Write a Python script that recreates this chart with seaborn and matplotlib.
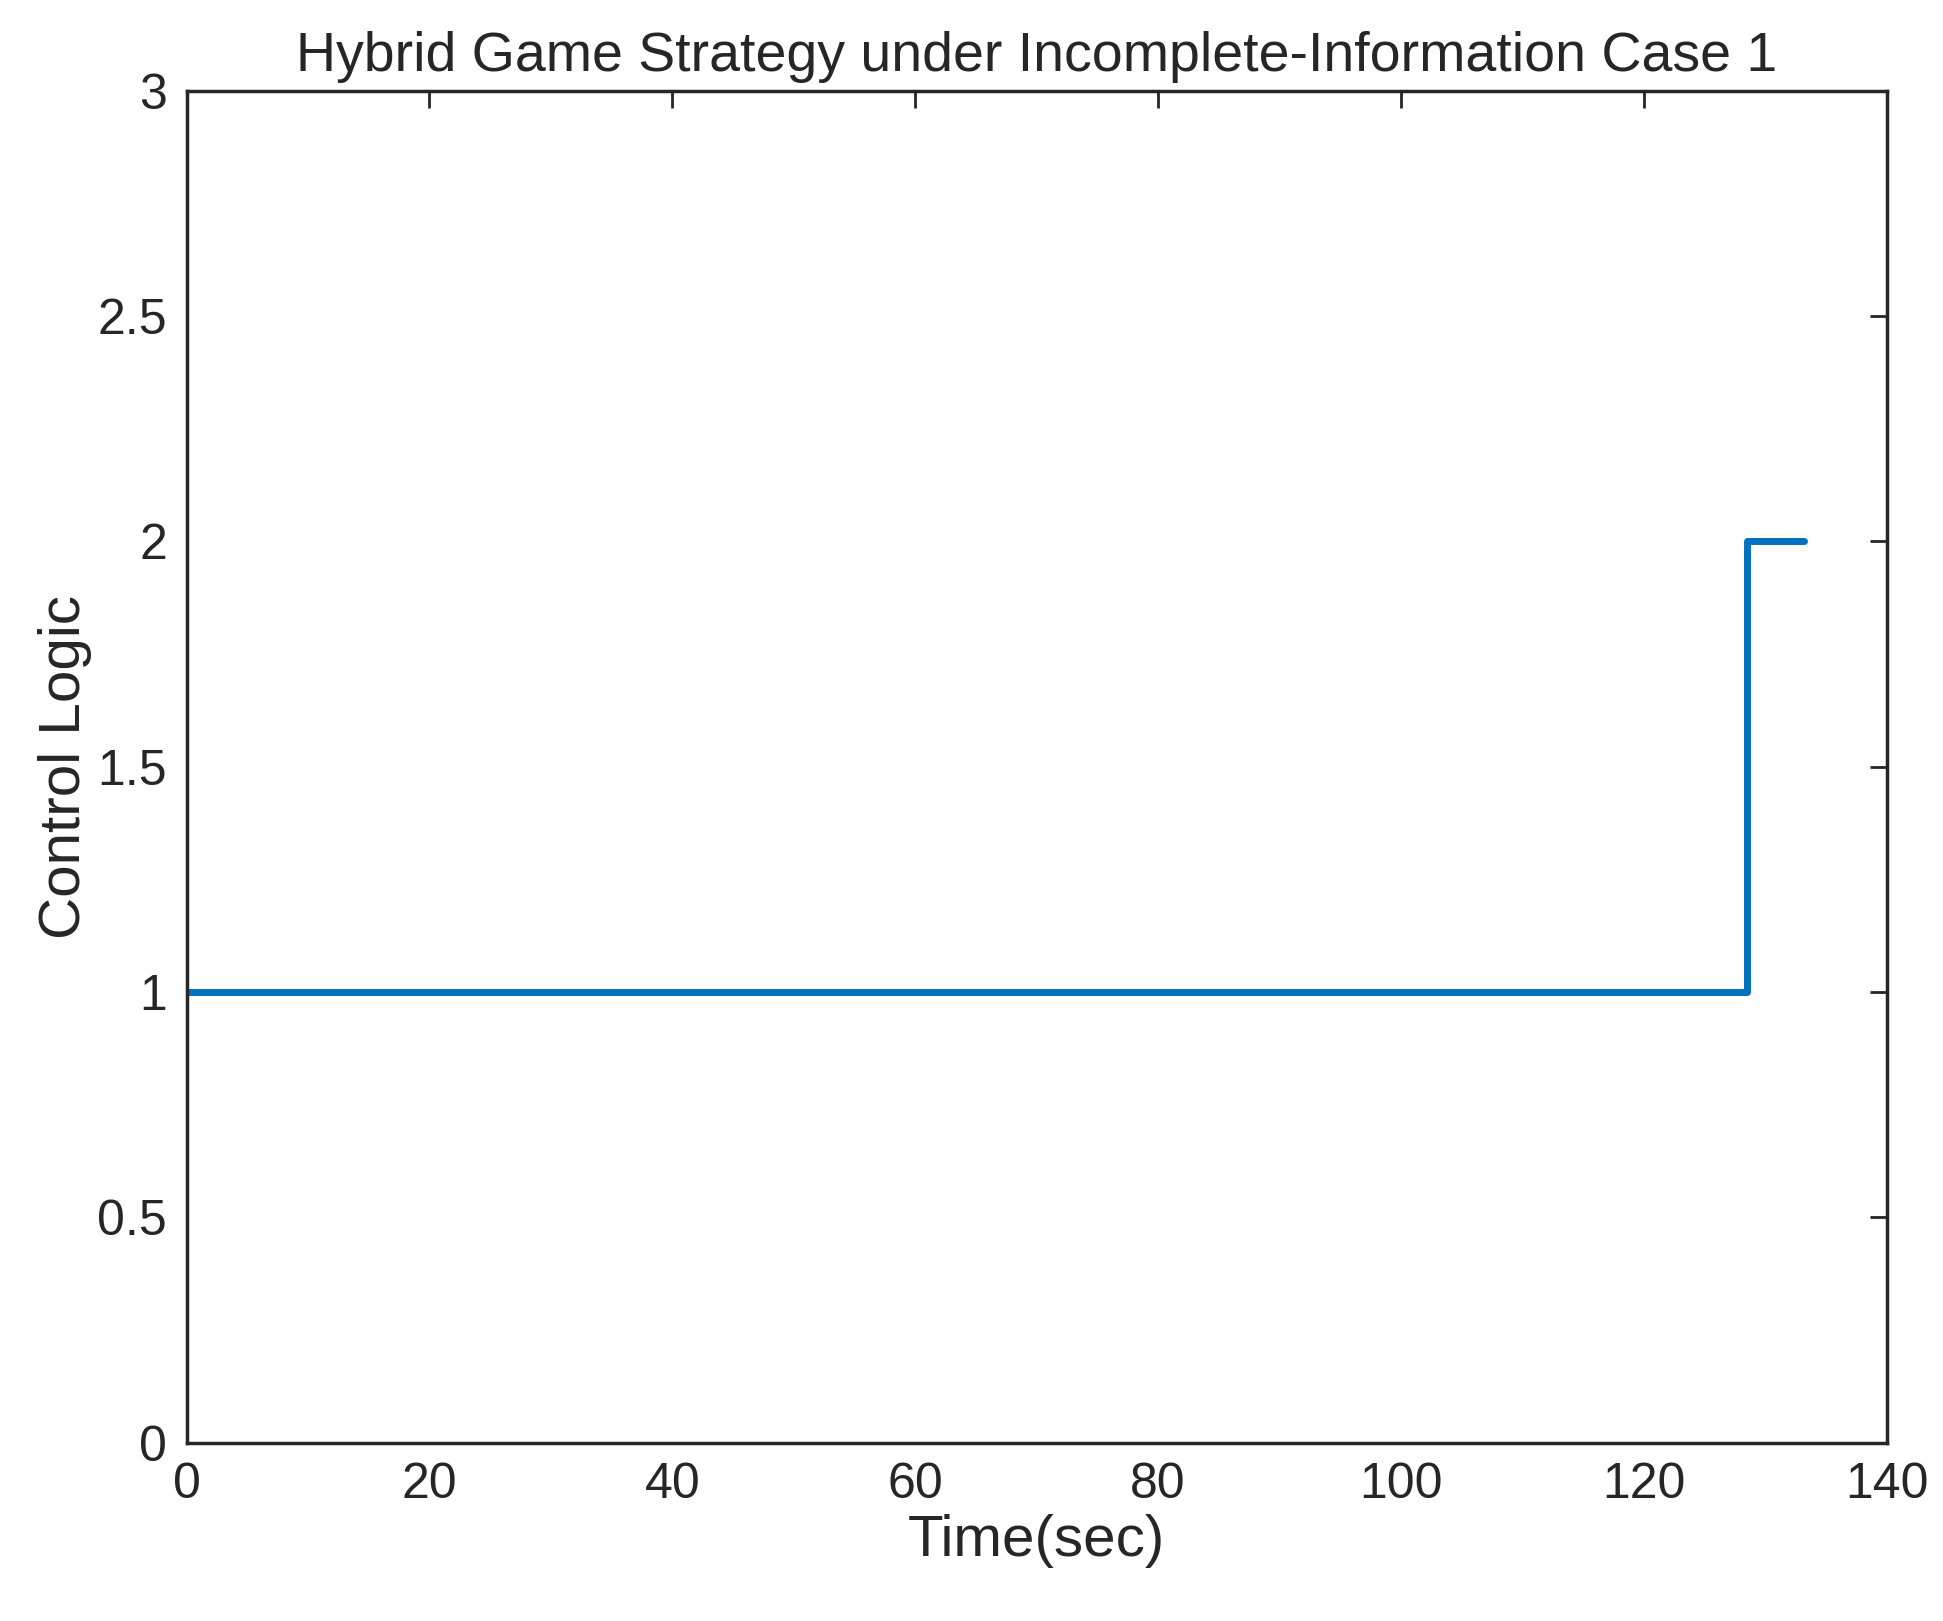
import matplotlib
matplotlib.use("Agg")
import matplotlib.pyplot as plt
import seaborn as sns
import pandas as pd

# step signal: control logic over time
tiempo = [0, 128.5, 128.5, 133.2]
logica = [1, 1, 2, 2]

sns.set_theme(style="white")
plt.rcParams["font.family"] = ["Liberation Sans", "DejaVu Sans"]

df = pd.DataFrame({"t": tiempo, "u": logica})

fig, ax = plt.subplots(figsize=(19.43, 16.21), dpi=100)
sns.lineplot(data=df, x="t", y="u", sort=False, estimator=None,
             color="#0072BD", linewidth=5, ax=ax)

ax.set_xlim(0, 140)
ax.set_ylim(0, 3)
ax.set_xticks(range(0, 141, 20))
ax.set_yticks([0, 0.5, 1, 1.5, 2, 2.5, 3])
ax.set_yticklabels(["0", "0.5", "1", "1.5", "2", "2.5", "3"])
ax.tick_params(axis="both", which="both", direction="in", length=12, width=2,
               labelsize=36, colors="#262626", top=True, right=True, pad=14)
for s in ax.spines.values():
    s.set_linewidth(2.5)
    s.set_color("#262626")
ax.set_title("Hybrid Game Strategy under Incomplete-Information Case 1", fontsize=40, color="#262626", pad=14)
ax.set_xlabel("Time(sec)", fontsize=42, color="#262626")
ax.set_ylabel("Control Logic", fontsize=42, color="#262626")

plt.subplots_adjust(left=0.096, right=0.971, top=0.944, bottom=0.11)
fig.savefig("out.png")
